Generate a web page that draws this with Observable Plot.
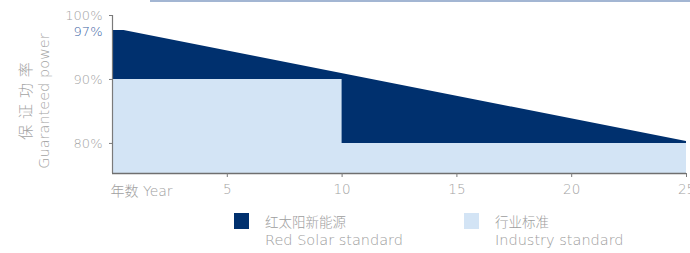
<!DOCTYPE html>
<html><head><meta charset="utf-8">
<script src="https://cdn.jsdelivr.net/npm/d3@7"></script>
<script src="https://cdn.jsdelivr.net/npm/@observablehq/plot@0.6"></script>
<style>
body{margin:0;background:#fff;}
#wrap{position:relative;width:690px;height:253px;overflow:hidden;font-family:"DejaVu Sans","Noto Sans CJK SC",sans-serif;font-weight:200;color:#9d9d9d}
#topline{position:absolute;left:150px;top:0;width:540px;height:1.5px;background:#a3b6d3}
#chart{position:absolute;left:0;top:0}
.ylab{position:absolute;white-space:nowrap;transform:translate(-50%,-50%) rotate(-90deg);color:#a3a3a3}
.leg{position:absolute;top:211px;}
.sw{position:absolute;left:0;top:2px;width:15px;height:16px}
.t1{position:absolute;left:31px;top:1px;font-size:13.5px;white-space:nowrap;line-height:18px;font-family:"Noto Sans CJK SC",sans-serif;font-weight:300}
.t2{position:absolute;left:31px;top:20px;font-size:14.5px;white-space:nowrap;line-height:18px}
</style></head>
<body>
<div id="wrap"><div id="topline"></div><div id="chart"></div></div>
<script>
const redYears = [0, 0.5, 25];
const redPower = [97.66, 97.66, 80.3];
const indYears = [0, 10, 25];
const indPower = [90, 80, 80];
const yTicks = [80, 90, 100];
const xTicks = [5, 10, 15, 20, 25];
const xStartLabel = "年数 Year";
const highlightLabel = "97%";
const yLabelZh = "保 证 功 率";
const yLabelEn = "Guaranteed power";
const legendZh = ["红太阳新能源", "行业标准"];
const legendEn = ["Red Solar standard", "Industry standard"];
const colors = ["#00306e", "#d3e4f5"];

const yMin = 75.3;
const red = redYears.map((x, i) => ({x, y: redPower[i]}));
const ind = indYears.map((x, i) => ({x, y: indPower[i]}));

const chart = Plot.plot({
  width: 690, height: 200,
  marginLeft: 112, marginRight: 4, marginTop: 15, marginBottom: 27,
  x: {domain: [0, 25]},
  y: {domain: [yMin, 100]},
  style: {fontFamily: "'DejaVu Sans', 'Noto Sans CJK SC', sans-serif", fontSize: "13px", color: "#9d9d9d", background: "transparent", fontWeight: 200},
  marks: [
    Plot.areaY(red, {x: "x", y1: yMin, y2: "y", fill: colors[0]}),
    Plot.areaY(ind, {x: "x", y1: yMin, y2: "y", fill: colors[1], curve: "step-after"}),
    Plot.ruleX([0], {stroke: "#7a7a7a", strokeWidth: 1.2}),
    Plot.ruleY([yMin], {stroke: "#6f6f6f", strokeWidth: 1.5}),
    Plot.axisY({ticks: yTicks, tickFormat: d => d + "%", tickSize: 3, tickPadding: 7, label: null, stroke: "#7a7a7a", fill: "#a3a3a3", fontSize: 13}),
    Plot.axisX({ticks: xTicks, tickSize: 4, tickPadding: 7, label: null, stroke: "#7a7a7a", fill: "#a3a3a3", fontSize: 13.5}),
    Plot.text([xStartLabel], {x: 0, y: yMin, text: d => d, textAnchor: "start", dy: 18, dx: -2, fill: "#a0a0a0", fontSize: 14}),
    Plot.text([highlightLabel], {x: 0, y: redPower[0], text: d => d, textAnchor: "end", dx: -10, dy: 1, fill: "#3d64a4", fontSize: 13})
  ]
});
document.getElementById("chart").appendChild(chart);

const wrap = document.getElementById("wrap");
function ylab(txt, cx, cy, size, extra) {
  const d = document.createElement("div");
  d.className = "ylab"; d.textContent = txt;
  d.style.left = cx + "px"; d.style.top = cy + "px";
  d.style.fontSize = size + "px";
  Object.assign(d.style, extra || {});
  wrap.appendChild(d);
}
ylab(yLabelZh, 24, 101, 15, {fontFamily: "'Noto Sans CJK SC', sans-serif", fontWeight: 300, wordSpacing: "2.5px"});
ylab(yLabelEn, 44, 101, 14.5);

const legX = [234, 464];
legendZh.forEach((zh, i) => {
  const g = document.createElement("div");
  g.className = "leg"; g.style.left = legX[i] + "px";
  g.innerHTML = `<div class="sw" style="background:${colors[i]}"></div><div class="t1"></div><div class="t2"></div>`;
  g.querySelector(".t1").textContent = zh;
  g.querySelector(".t2").textContent = legendEn[i];
  wrap.appendChild(g);
});
</script>
</body></html>
